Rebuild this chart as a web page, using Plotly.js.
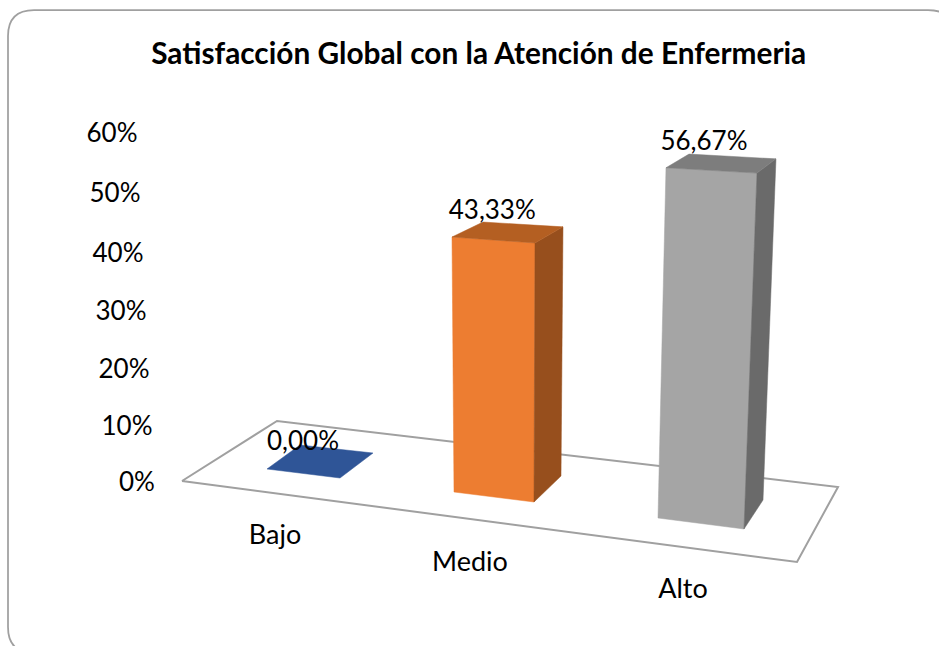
<!DOCTYPE html>
<html><head><meta charset="utf-8">
<script src="https://cdn.plot.ly/plotly-3.0.1.min.js"></script>
<style>html,body{margin:0;padding:0;background:#fff;overflow:hidden}#chart{width:939px;height:646px}</style>
</head><body><div id="chart"></div>
<script>
// Data
const categories = ['Bajo', 'Medio', 'Alto'];
const values = [0.00, 43.33, 56.67];
const tickValues = [60, 50, 40, 30, 20, 10, 0];
const titleText = 'Satisfacción Global con la Atención de Enfermeria';

// Perspective scene: the floor, and for each column its floor corners (FL, FR, BR, BL)
// and how far each corner moves per percentage point.
const floorX = [182, 797, 838, 277, 182];
const floorY = [481, 562, 487, 421, 481];
const scene = [
  {bx:[267,340,373,300], by:[469,478,453,445], rx:[0,0,0,0], ry:[-6,-6,-6,-6],
   front:'#2F5597', side:'#203864', top:'#2F5597', ldx:-17, ldy:-2},
  {bx:[454,534,561,481], by:[492,502,476,466], rx:[-0.046,0.023,0.046,0.046], ry:[-5.885,-5.977,-5.75,-5.63],
   front:'#ED7D31', side:'#974F1D', top:'#B45F22', ldx:-16, ldy:-10},
  {bx:[658,744,763,677], by:[518,529,500,489], rx:[0.141,0.229,0.229,0.212], ry:[-6.18,-6.28,-6.02,-5.91],
   front:'#A5A5A5', side:'#6A6A6A', top:'#7D7D7D', ldx:-18, ldy:-11}
];
const catX = [275, 470, 683], catY = [537, 564, 591];
const tickX = [112, 115, 118, 121, 124, 127, 137], tickY = [135, 195, 255, 313, 371, 428, 484];

const font = 'Lato, Carlito, Calibri, sans-serif';
const traces = [];
function poly(xs, ys, color) {
  traces.push({type:'scatter', mode:'lines', x:[...xs, xs[0]], y:[...ys, ys[0]],
    fill:'toself', fillcolor:color, line:{color:color, width:0.5}, hoverinfo:'skip', showlegend:false});
}
// Floor
traces.push({type:'scatter', mode:'lines', x:floorX, y:floorY, line:{color:'#A0A0A0', width:2},
  hoverinfo:'skip', showlegend:false});
// Columns
const labelX = [], labelY = [], labelT = [];
values.forEach((v, i) => {
  const s = scene[i];
  const tx = s.bx.map((b, k) => b + v * s.rx[k]);
  const ty = s.by.map((b, k) => b + v * s.ry[k]);
  if (v > 0) {
    poly([s.bx[0], s.bx[1], tx[1], tx[0]], [s.by[0], s.by[1], ty[1], ty[0]], s.front);
    poly([s.bx[1], s.bx[2], tx[2], tx[1]], [s.by[1], s.by[2], ty[2], ty[1]], s.side);
  }
  poly(tx, ty, s.top);
  labelX.push(tx.reduce((a, b) => a + b, 0) / 4 + s.ldx);
  labelY.push(Math.min(...ty) + s.ldy);
  labelT.push(v.toFixed(2).replace('.', ',') + '%');
});
function text(xs, ys, ts, size) {
  traces.push({type:'scatter', mode:'text', x:xs, y:ys, text:ts, textposition:'middle center',
    textfont:{family:font, size:size, color:'#000'}, hoverinfo:'skip', showlegend:false, cliponaxis:false});
}
text(labelX, labelY, labelT, 26);
text(catX, catY, categories, 27);
text(tickX, tickY, tickValues.map(t => t + '%'), 26);

const layout = {
  width:939, height:646, margin:{l:0, r:0, t:0, b:0},
  paper_bgcolor:'#fff', plot_bgcolor:'#fff', showlegend:false,
  xaxis:{range:[0, 939], visible:false, fixedrange:true},
  yaxis:{range:[646, 0], visible:false, fixedrange:true},
  title:{text:'<b>' + titleText + '</b>', x:0.5098, xanchor:'center', y:0.917, yanchor:'middle',
    font:{family:font, size:29.8, color:'#000'}},
  shapes:[{type:'path', xref:'x', yref:'y', layer:'below',
    path:'M 8 36 Q 8 10 34 10 L 928 10 Q 954 10 954 36 L 954 627 Q 954 653 928 653 L 34 653 Q 8 653 8 627 Z',
    line:{color:'#A0A0A0', width:1.75}, fillcolor:'rgba(0,0,0,0)'}]
};
Plotly.newPlot('chart', traces, layout, {displayModeBar:false, staticPlot:true});
</script></body></html>
